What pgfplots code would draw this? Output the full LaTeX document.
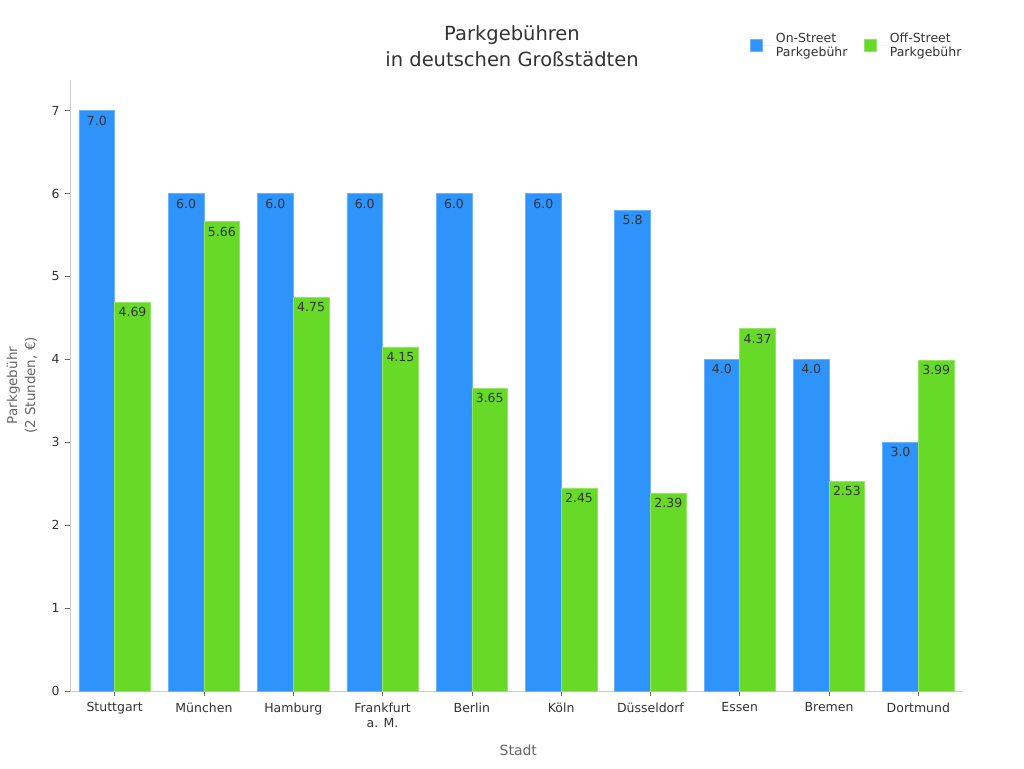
\documentclass[border=0pt]{standalone}
\usepackage{pgfplots}
\pgfplotsset{compat=1.18}
\usepackage{fontspec}
\setmainfont{DejaVu Sans}

\definecolor{onstreet}{HTML}{2E93FA}
\definecolor{offstreet}{HTML}{66DA26}
\definecolor{txtdark}{HTML}{333333}
\definecolor{txtgray}{HTML}{666666}
\definecolor{axisgray}{HTML}{CCCCCC}

\begin{document}
\begin{tikzpicture}[x=1pt,y=1pt]
% fixed canvas around the axis box (axis box: 893 x 611, lower left at origin)
\useasboundingbox (-70,-77) rectangle (954,691);
\begin{axis}[
  at={(0,0)}, anchor=south west,
  scale only axis, width=893pt, height=611pt,
  ybar=0pt, bar width=0.4,
  xmin=-0.5, xmax=9.5, ymin=0, ymax=7.37,
  xtick={0,...,9},
  xticklabels={Stuttgart,München,Hamburg,{Frankfurt\\a. M.},Berlin,Köln,Düsseldorf,Essen,Bremen,Dortmund},
  xticklabel style={align=center, font=\fontsize{12.5}{15}\selectfont, text=txtdark, yshift=-3pt},
  ytick={0,...,7},
  yticklabel style={font=\fontsize{12.5}{15}\selectfont, text=txtdark, xshift=-2pt},
  /pgf/number format/assume math mode=true,
  axis x line*=bottom, axis y line*=left,
  axis line style={-, draw=axisgray, line width=0.8pt},
  tick style={draw=txtgray, line width=0.6pt},
  tick align=outside, major tick length=5pt,
  xlabel={Stadt},
  xlabel style={at={(rel axis cs:0.502,0)}, anchor=center, yshift=-59pt,
    font=\fontsize{14}{16}\selectfont, text=txtgray},
  ylabel={Parkgebühr\\(2 Stunden, €)},
  ylabel style={at={(axis description cs:-0.0538,0.5)}, anchor=center,
    align=center, font=\fontsize{13.5}{18}\selectfont, text=txtgray},
  nodes near coords,
  every node near coord/.append style={anchor=north, yshift=-5pt,
    font=\fontsize{12.5}{15}\selectfont, text=txtdark, inner sep=0pt},
  legend style={draw=none, fill=none, at={(rel axis cs:0.7575,1.057)}, anchor=west,
    legend columns=2, cells={align=left},
    font=\fontsize{12.5}{14}\selectfont, text=txtdark,
    /tikz/every even column/.append style={column sep=14pt}},
  legend image code/.code={\fill[#1] (0pt,-6pt) rectangle (12pt,6pt); \path[draw=none] (0pt,0pt) -- (24pt,0pt);},
]
% on-street fees (EUR per 2 hours)
\addplot[fill=onstreet, draw=onstreet!70!white, line width=0.6pt,
  nodes near coords={\pgfmathprintnumber[fixed,fixed zerofill,precision=1]{\pgfplotspointmeta}}]
  coordinates {(0,7.0) (1,6.0) (2,6.0) (3,6.0) (4,6.0) (5,6.0) (6,5.8) (7,4.0) (8,4.0) (9,3.0)};
\addlegendentry{On-Street\\Parkgebühr}
% off-street fees (EUR per 2 hours)
\addplot[fill=offstreet, draw=offstreet!70!white, line width=0.6pt,
  nodes near coords={\pgfmathprintnumber[fixed,fixed zerofill,precision=2]{\pgfplotspointmeta}}]
  coordinates {(0,4.69) (1,5.66) (2,4.75) (3,4.15) (4,3.65) (5,2.45) (6,2.39) (7,4.37) (8,2.53) (9,3.99)};
\addlegendentry{Off-Street\\Parkgebühr}
\end{axis}
% chart title
\node[align=center, text=txtdark, font=\fontsize{19.5}{26}\selectfont] at (442,645)
  {Parkgebühren\\in deutschen Großstädten};
\end{tikzpicture}
\end{document}
